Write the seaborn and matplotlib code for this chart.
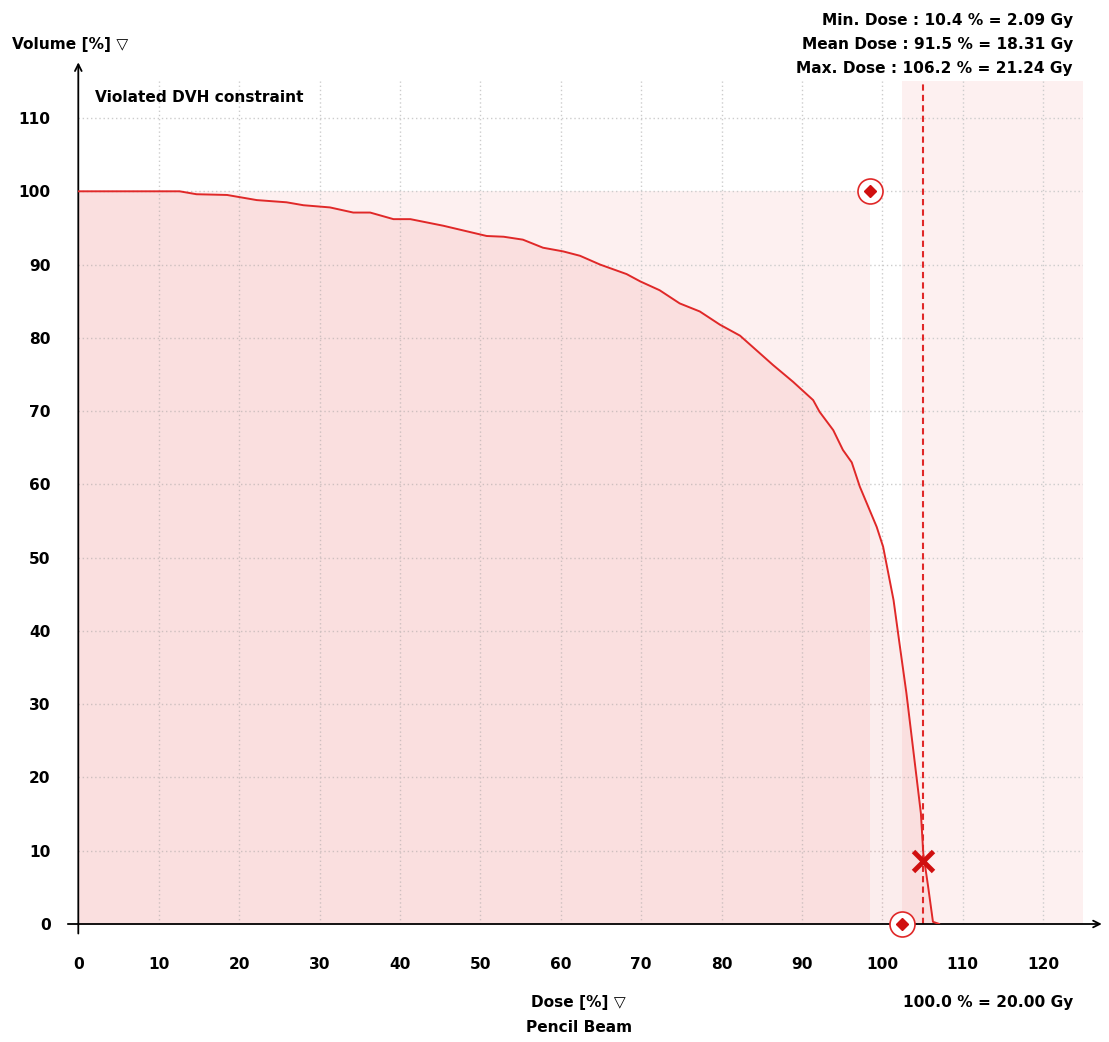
import matplotlib
matplotlib.use("Agg")
import matplotlib.pyplot as plt
import seaborn as sns
import pandas as pd

# ---- data ----
dose = [0, 5, 10, 12.6, 14.7, 18.5, 22.2, 25.9, 28.0, 31.3, 34.2, 36.3, 39.2, 41.3,
        45.4, 50.8, 52.9, 55.3, 57.8, 60.3, 62.4, 64.9, 68.2, 69.9, 72.3, 74.8, 77.3,
        79.8, 82.3, 86.4, 88.9, 91.4, 92.2, 93.9, 95.1, 96.2, 97.2, 99.3, 100.1, 101.4,
        102.2, 103.0, 103.9, 104.8, 105.1, 105.7, 106.3, 107.1]
volume = [100, 100, 100, 100, 99.6, 99.5, 98.8, 98.5, 98.1, 97.8, 97.1, 97.1, 96.2, 96.2,
          95.3, 93.9, 93.8, 93.4, 92.3, 91.8, 91.2, 90.0, 88.7, 87.7, 86.5, 84.7, 83.6,
          81.8, 80.3, 76.3, 74.0, 71.5, 69.9, 67.4, 64.7, 63.0, 59.7, 54.2, 51.5, 44.2,
          37.8, 31.5, 23.3, 15.1, 9.6, 5.1, 0.3, 0.0]
x_ticks = [0, 10, 20, 30, 40, 50, 60, 70, 80, 90, 100, 110, 120]
y_ticks = [0, 10, 20, 30, 40, 50, 60, 70, 80, 90, 100, 110]
constraint_upper = (98.5, 100)   # dose, volume
constraint_lower = (102.4, 0)
violation = (105.0, 8.6)
stats_lines = ["Min. Dose : 10.4 % = 2.09 Gy",
               "Mean Dose : 91.5 % = 18.31 Gy",
               "Max. Dose : 106.2 % = 21.24 Gy"]

df = pd.DataFrame({"dose": dose, "volume": volume})

sns.set_style("white")
FAM = ['DejaVu Sans']
plt.rcParams['font.family'] = FAM
plt.rcParams['font.weight'] = 'bold'
plt.rcParams['text.color'] = 'black'
plt.rcParams['xtick.color'] = 'black'
plt.rcParams['ytick.color'] = 'black'
FS = 11.1

W, H = 1109, 1042
fig = plt.figure(figsize=(W / 100, H / 100), dpi=100)
ax = fig.add_axes([78.3 / W, (H - 924) / H, 1005 / W, 842.6 / H])
ax.set_xlim(0, 125)
ax.set_ylim(0, 115)

red = '#e02828'
# background constraint regions
ax.fill_between([0, constraint_upper[0]], 0, 100, color='#fdf0f0', lw=0, zorder=0)
ax.fill_between([constraint_lower[0], 125], 0, 115, color='#fdf0f0', lw=0, zorder=0)

# grid
for v in x_ticks[1:]:
    ax.axvline(v, color='#cccccc', lw=1, ls=(0, (1, 2)), zorder=1)
for v in y_ticks[1:]:
    ax.axhline(v, color='#cccccc', lw=1, ls=(0, (1, 2)), zorder=1)

# curve
ax.fill_between(df["dose"], 0, df["volume"], color='#e05050', alpha=0.10, lw=0, zorder=2)
sns.lineplot(data=df, x="dose", y="volume", ax=ax, color=red, lw=1.4, zorder=4)

# dashed max line
ax.axvline(violation[0], color=red, lw=1.5, ls=(0, (3, 2)), zorder=3)

# constraint markers
for (cx, cy) in [constraint_upper, constraint_lower]:
    ax.plot(cx, cy, marker='o', ms=18, mfc='white', mec=red, mew=1.2, clip_on=False, zorder=5)
    ax.plot(cx, cy, marker='D', ms=6.5, color='#d01010', clip_on=False, zorder=6)
ax.plot(violation[0], violation[1], marker='x', ms=14, mew=3.5, color='#d01010', zorder=6)

# axes
for s in ax.spines.values():
    s.set_visible(False)
ax.annotate('', xy=(0, 117.6), xytext=(0, -1.3), xycoords='data',
            arrowprops=dict(arrowstyle='->', color='black', lw=1.3, shrinkA=0, shrinkB=0,
                            mutation_scale=12), annotation_clip=False)
ax.annotate('', xy=(127.3, 0), xytext=(-1.3, 0), xycoords='data',
            arrowprops=dict(arrowstyle='->', color='black', lw=1.3, shrinkA=0, shrinkB=0,
                            mutation_scale=12), annotation_clip=False)
ax.set_xticks(x_ticks)
ax.set_yticks(y_ticks)
ax.set_xticklabels([str(t) for t in x_ticks], fontsize=FS, fontweight='bold')
ax.set_yticklabels([str(t) for t in y_ticks], fontsize=FS, fontweight='bold')
ax.tick_params(axis='both', direction='inout', length=14, width=1.2, color='#222222')
ax.tick_params(axis='x', pad=17)
ax.tick_params(axis='y', pad=13)
ax.set_xlabel('')
ax.set_ylabel('')

# texts
def ftext(x, y, s, ha='left'):
    fig.text(x / W, 1 - y / H, s, ha=ha, va='center', fontsize=FS, fontweight='bold',
             family=FAM, color='black')

ftext(12, 44, "Volume [%] \u25bd")
ftext(95, 97, "Violated DVH constraint")
for i, s in enumerate(stats_lines):
    ftext(1073, 20 + i * 24.5, s, ha='right')
ftext(578, 1002, "Dose [%] \u25bd", ha='center')
ftext(579, 1027, "Pencil Beam", ha='center')
ftext(1073, 1002, "100.0 % = 20.00 Gy", ha='right')

fig.savefig("out.png", dpi=100)
